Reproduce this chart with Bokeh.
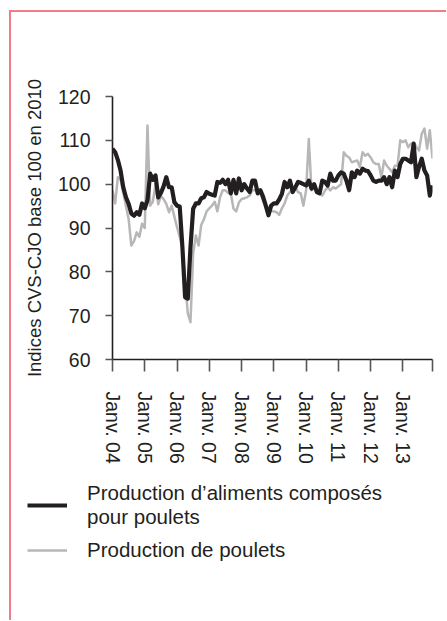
from bokeh.plotting import figure
from bokeh.models import Range1d, FixedTicker, Legend, LegendItem, ColumnDataSource
from bokeh.embed import file_html
from bokeh.resources import INLINE

# ---- data (monthly indices, Jan 2004 .. Dec 2013) ----
months = list(range(120))

feed = [108.1, 107.3, 105.5, 103.1, 99.3, 97.0, 95.5, 93.3, 92.8, 93.6, 93.0, 95.6,
        94.5, 96.3, 102.4, 101.0, 102.0, 97.0, 98.0, 99.5, 101.6, 99.3, 99.3, 95.9,
        95.1, 94.9, 85.6, 74.2, 73.9, 85.6, 94.4, 95.6, 95.6, 96.8, 97.0, 98.2,
        97.8, 97.6, 97.4, 100.5, 100.3, 101.0, 100.0, 101.0, 97.9, 101.0, 97.9, 101.3,
        98.6, 100.0, 99.0, 98.2, 100.8, 100.8, 97.9, 98.6, 97.1, 95.1, 92.9, 95.1,
        95.6, 95.6, 96.5, 97.8, 100.5, 99.3, 100.8, 98.2, 99.3, 100.5, 100.3, 100.0,
        99.7, 100.8, 99.0, 100.0, 98.2, 97.9, 100.8, 100.5, 99.7, 102.4, 100.8, 100.8,
        102.0, 102.7, 102.4, 100.8, 98.6, 102.7, 101.6, 103.1, 102.4, 103.5, 103.1, 103.0,
        102.0, 100.8, 100.5, 100.8, 100.8, 101.6, 100.0, 101.6, 99.3, 103.1, 101.6, 104.6,
        105.8, 105.8, 105.4, 105.0, 109.2, 101.6, 104.0, 105.8, 103.1, 102.0, 97.4, 99.7]

chickens = [98.6, 95.6, 101.6, 101.0, 98.0, 95.0, 92.0, 86.0, 87.0, 89.0, 88.0, 91.0,
            90.0, 113.4, 95.1, 96.0, 100.0, 95.4, 97.3, 96.6, 95.5, 93.6, 95.1, 92.6,
            90.2, 88.0, 85.6, 77.9, 70.5, 68.5, 84.2, 88.3, 86.0, 90.7, 92.0, 93.8,
            94.5, 95.1, 96.0, 93.8, 97.0, 98.6, 98.6, 98.0, 97.9, 94.4, 93.8, 95.8,
            96.6, 96.8, 97.0, 97.4, 98.6, 98.6, 98.6, 97.9, 96.2, 95.0, 94.4, 93.8,
            93.8, 93.6, 93.0, 94.5, 95.6, 97.4, 98.2, 98.8, 99.3, 98.2, 97.9, 95.1,
            98.6, 110.3, 98.6, 99.3, 98.6, 97.9, 97.4, 98.5, 99.3, 98.6, 99.3, 99.0,
            99.5, 100.0, 107.3, 106.5, 106.1, 105.0, 105.2, 105.4, 103.9, 107.3, 106.5, 106.9,
            106.1, 105.0, 104.6, 104.6, 101.6, 105.4, 104.2, 103.5, 102.7, 104.2, 104.2, 110.0,
            109.6, 110.0, 108.4, 109.2, 109.6, 108.5, 107.7, 111.5, 112.7, 108.1, 112.3, 105.8]

year_ticks = [0, 12, 24, 36, 48, 60, 72, 84, 96, 108, 119]
year_labels = ["Janv. 04", "Janv. 05", "Janv. 06", "Janv. 07", "Janv. 08",
               "Janv. 09", "Janv. 10", "Janv. 11", "Janv. 12", "Janv. 13", ""]
y_ticks = [60, 70, 80, 90, 100, 110, 120]

name_feed = "Production d\u2019aliments compos\u00e9s\npour poulets"
name_chickens = "Production de poulets"

TEXT = "#231f20"
GREY = "#b7b7b9"
PINK = "#ef7b8b"
FONT = "Liberation Sans"

src = ColumnDataSource(dict(m=months, feed=feed, chickens=chickens))

# ---------------- main chart ----------------
p = figure(frame_width=320, frame_height=263, output_backend="svg", toolbar_location=None,
           x_range=Range1d(0, 119), y_range=Range1d(60, 120),
           min_border_left=101, min_border_right=14, min_border_top=84,
           min_border_bottom=120)
p.margin = (10, 0, 0, 9)
p.styles = {"border-left": "2px solid " + PINK, "border-top": "2px solid " + PINK}
p.outline_line_color = None
p.xgrid.visible = False
p.ygrid.visible = False
p.background_fill_color = "white"
p.border_fill_color = "white"

p.line("m", "chickens", source=src, line_color=GREY, line_width=2.5, line_join="round")
p.line("m", "feed", source=src, line_color=TEXT, line_width=4.2, line_join="round")

# x axis
xa = p.xaxis[0]
xa.ticker = FixedTicker(ticks=year_ticks)
xa.major_label_overrides = {t: l for t, l in zip(year_ticks, year_labels)}
xa.major_label_orientation = "vertical"
xa.major_tick_out = 12
xa.major_tick_in = 0
xa.minor_tick_out = 0
xa.minor_tick_in = 0
xa.major_label_standoff = 20
xa.axis_line_color = TEXT
xa.axis_line_width = 1.6
xa.major_tick_line_color = "#555555"
xa.major_tick_line_width = 1.6
xa.major_label_text_font = FONT
xa.major_label_text_font_size = "19.5px"
xa.major_label_text_color = TEXT

# y axis
ya = p.yaxis[0]
ya.ticker = FixedTicker(ticks=y_ticks)
ya.major_tick_out = 7
ya.major_tick_in = 0
ya.minor_tick_out = 0
ya.minor_tick_in = 0
ya.major_label_standoff = 15
ya.axis_line_color = TEXT
ya.axis_line_width = 1.6
ya.major_tick_line_color = "#555555"
ya.major_tick_line_width = 1.4
ya.major_label_text_font = FONT
ya.major_label_text_font_size = "19.5px"
ya.major_label_text_color = TEXT
ya.axis_label = "Indices CVS-CJO base 100 en 2010"
ya.axis_label_text_font = FONT
ya.axis_label_text_font_size = "18.5px"
ya.axis_label_text_font_style = "normal"
ya.axis_label_text_color = TEXT
ya.axis_label_standoff = 10

# ---------------- legend strip (separate root, below the chart) ----------------
lf = figure(width=435, height=141, output_backend="svg", toolbar_location=None,
            x_range=Range1d(0, 1), y_range=Range1d(0, 1),
            x_axis_location=None, y_axis_location=None,
            min_border_left=16, min_border_top=2, min_border_right=0, min_border_bottom=0)
lf.margin = (0, 0, 0, 9)
lf.styles = {"border-left": "2px solid " + PINK}
lf.outline_line_color = None
lf.grid.visible = False
lf.background_fill_color = "white"
lf.border_fill_color = "white"

key_src = ColumnDataSource(dict(m=[float("nan")], v=[float("nan")]))
k_fd = lf.line("m", "v", source=key_src, line_color=TEXT, line_width=4.2)
k_ch = lf.line("m", "v", source=key_src, line_color=GREY, line_width=2.5)

legend = Legend(items=[LegendItem(label=name_feed, renderers=[k_fd]),
                       LegendItem(label=name_chickens, renderers=[k_ch])],
                location="top_left", orientation="vertical")
legend.border_line_color = None
legend.background_fill_alpha = 0
legend.margin = 0
legend.padding = 0
legend.glyph_width = 40
legend.glyph_height = 20
legend.label_standoff = 20
legend.spacing = 9
legend.label_text_font = FONT
legend.label_text_font_size = "20.5px"
legend.label_text_color = TEXT
legend.label_text_line_height = 1.05
lf.add_layout(legend, "center")

open("out.html", "w").write(file_html([p, lf], INLINE))
